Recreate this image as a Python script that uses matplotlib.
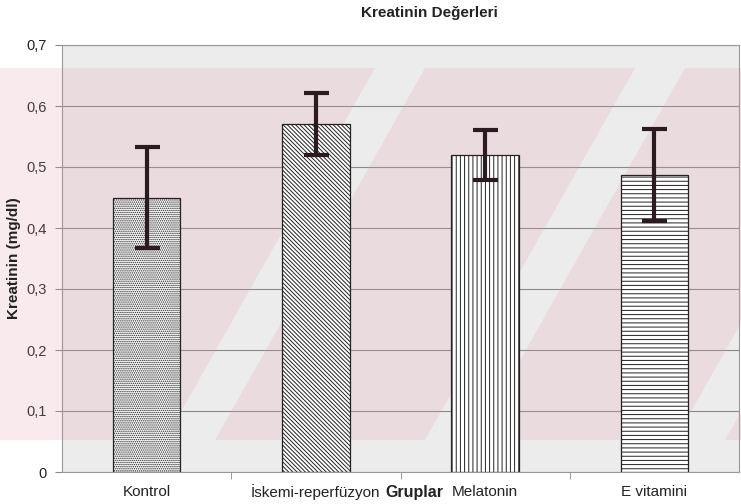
import matplotlib
matplotlib.use("Agg")
import matplotlib.pyplot as plt
import matplotlib.transforms as mtransforms
from matplotlib.patches import Polygon, Rectangle
import numpy as np

plt.rcParams['font.family'] = ['Liberation Sans', 'DejaVu Sans']
plt.rcParams['hatch.linewidth'] = 0.7

# Kreatinin ortalamaları ve standart sapmaları
gruplar = ["Kontrol", "İskemi-reperfüzyon", "Melatonin", "E vitamini"]
ortalama = [0.45, 0.57, 0.52, 0.487]
sapma = [0.083, 0.051, 0.041, 0.075]
desenler = ['........', '\\\\\\\\\\\\\\\\', '||||', '----']
y_ticks = [0, 0.1, 0.2, 0.3, 0.4, 0.5, 0.6, 0.7]
y_etiket = ["0", "0,1", "0,2", "0,3", "0,4", "0,5", "0,6", "0,7"]

W, H = 741, 504
fig = plt.figure(figsize=(W / 100, H / 100), dpi=100)
ax = fig.add_axes([62 / W, 1 - 472 / H, 677 / W, 427 / H])
ax.set_facecolor('#ececec')


def px(x, y):
    return (x / W, 1 - y / H)


# arka plandaki pembe filigran bantları
clip = Rectangle(px(0, 440), 1, (440 - 68) / H, transform=fig.transFigure,
                 facecolor='none', edgecolor='none')
fig.add_artist(clip)
for x0, x1 in [(-300, 165), (215, 425), (475, 675), (725, 1000)]:
    band = Polygon([px(x0, 440), px(x1, 440), px(x1 + 210, 68), px(x0 + 210, 68)],
                   closed=True, transform=fig.transFigure, facecolor='#e39aa8',
                   edgecolor='none', alpha=0.2, zorder=0.6)
    ax.add_patch(band)
    band.set_clip_path(clip)

x = np.arange(len(gruplar))
for i in range(len(gruplar)):
    ax.bar(x[i], ortalama[i], width=0.4, color='white', edgecolor='#222222',
           hatch=desenler[i], linewidth=0.9, zorder=2)
ax.errorbar(x, ortalama, yerr=sapma, fmt='none', ecolor='#2b1a1f',
            elinewidth=3, capsize=9, capthick=3, zorder=3)

ax.set_xlim(-0.5, 3.5)
ax.set_ylim(0, 0.7)
ax.set_yticks(y_ticks)
ax.set_yticklabels(y_etiket)
ax.yaxis.grid(True, color='#8a8a8a', linewidth=0.8)
ax.set_axisbelow(True)

# grup adları eksenin altında, ortalanmış
ax.set_xticks(x)
ax.set_xticklabels([])
ax.set_xticks([0.5, 1.5, 2.5], minor=True)
alt = mtransforms.blended_transform_factory(ax.transData, fig.transFigure)
for xi, ad in zip(x, gruplar):
    ax.text(xi, 1 - 492 / H, ad, transform=alt, ha='center', va='center',
            fontsize=11, color='#222222')
ax.tick_params(axis='x', which='major', length=0)
ax.tick_params(axis='x', which='minor', length=5, color='#888888')
ax.tick_params(axis='y', length=5, color='#888888', labelsize=10.5, labelcolor='#222222', pad=6)

for s in ax.spines.values():
    s.set_color('#999999')
    s.set_linewidth(0.8)

fig.text(429 / W, 1 - 13 / H, "Kreatinin Değerleri", ha='center', va='center',
         fontsize=11, fontweight='bold', color='#222222')
fig.text(414 / W, 1 - 492 / H, "Gruplar", ha='center', va='center',
         fontsize=11.5, fontweight='bold', color='#222222')
fig.text(14 / W, 1 - 258 / H, "Kreatinin (mg/dl)", ha='center', va='center',
         rotation=90, fontsize=11, fontweight='bold', color='#222222')

fig.savefig("out.png", dpi=100)
